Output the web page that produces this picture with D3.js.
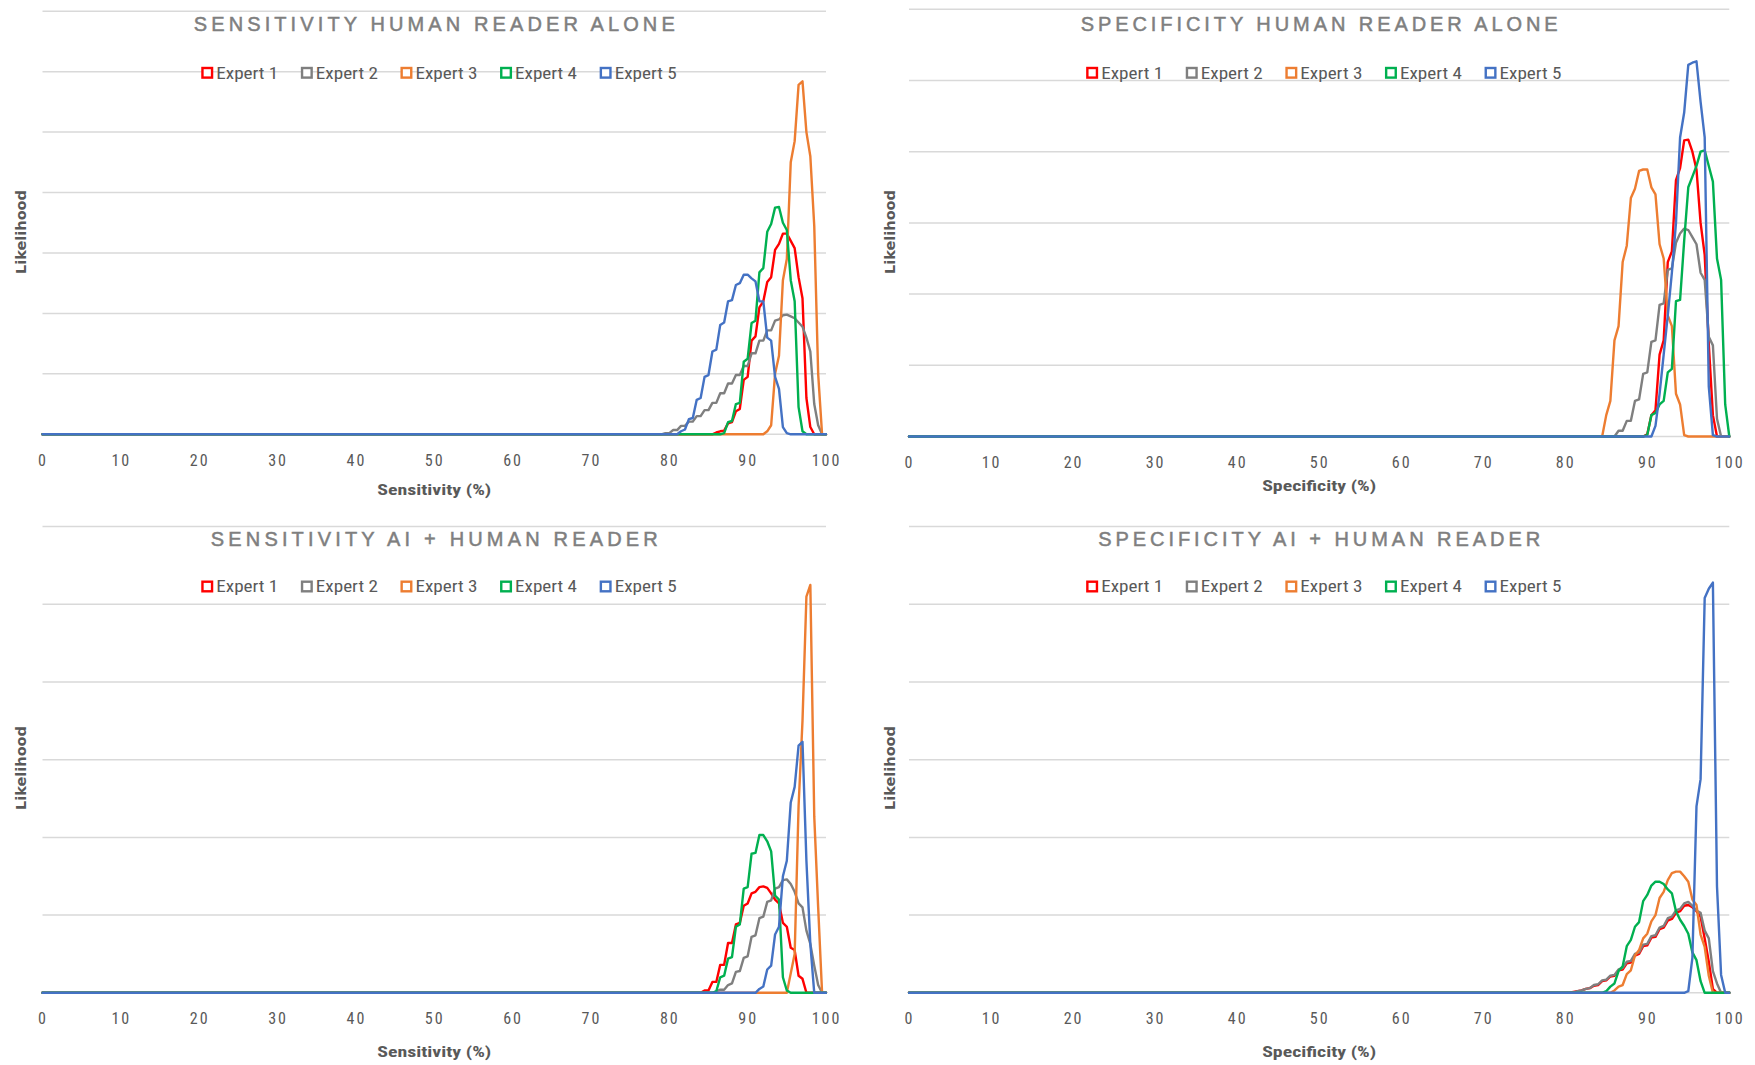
<!DOCTYPE html>
<html><head><meta charset="utf-8">
<script src="https://cdn.jsdelivr.net/npm/d3@7"></script>
<style>body{margin:0;background:#fff}svg{display:block}</style>
</head><body>
<svg id="chart" width="1755" height="1065"></svg>
<script>
// ---------- DATA ----------
const X_TICKS = [0, 10, 20, 30, 40, 50, 60, 70, 80, 90, 100];
const SERIES_NAMES = ["Expert 1", "Expert 2", "Expert 3", "Expert 4", "Expert 5"];
const SERIES_COLORS = ["#FF0000", "#7F7F7F", "#ED7D31", "#00B050", "#4472C4"];
const STEP = 0.5; // x spacing of the likelihood samples (%)

// Sensitivity, human reader alone
const SA_START = [85.5, 78.5, 92, 86.5, 80.5];
const SA_E1 = [0, .03, .05, .06, .18, .2, .38, .42, .9, .95, 1.55, 1.62, 2.1, 2.2, 2.52, 2.6, 3.05, 3.15, 3.32, 3.32, 3.2, 3.08, 2.6, 2.25, .6, .12, 0];
const SA_E2 = [0, 0, .02, .02, .07, .07, .14, .14, .21, .21, .3, .3, .4, .4, .52, .52, .68, .68, .84, .84, .98, .98, 1.13, 1.13, 1.34, 1.34, 1.55, 1.55, 1.72, 1.72, 1.88, 1.9, 1.97, 1.98, 1.95, 1.92, 1.85, 1.78, 1.6, 1.37, .5, .15, 0];
const SA_E3 = [0, .05, .15, 1.0, 1.3, 2.55, 2.9, 4.5, 4.85, 5.78, 5.84, 5.0, 4.6, 3.45, 1.0, 0];
const SA_E4 = [0, .02, .2, .22, .5, .52, 1.2, 1.25, 1.84, 1.88, 2.68, 2.75, 3.35, 3.48, 3.75, 3.76, 3.5, 3.38, 2.55, 2.2, .45, .05, 0];
const SA_E5 = [0, 0, .05, .08, .25, .27, .57, .6, .95, .98, 1.37, 1.4, 1.81, 1.85, 2.2, 2.22, 2.47, 2.5, 2.64, 2.64, 2.58, 2.53, 2.2, 2.2, 1.6, 1.55, .95, .75, .12, .02, 0];

// Specificity, human reader alone
const PA_START = [89.5, 85.5, 84.5, 89.5, 90.5];
const PA_E1 = [0, .03, .3, .37, 1.15, 1.35, 2.45, 2.6, 3.6, 3.77, 4.16, 4.17, 4.0, 3.75, 3.0, 2.55, 1.3, .3, 0];
const PA_E2 = [0, 0, .08, .08, .22, .22, .5, .52, .88, .9, 1.33, 1.35, 1.85, 1.87, 2.34, 2.36, 2.72, 2.85, 2.92, 2.9, 2.8, 2.7, 2.3, 2.2, 1.4, 1.28, .25, 0];
const PA_E3 = [0, .3, .5, 1.35, 1.55, 2.45, 2.68, 3.35, 3.48, 3.73, 3.75, 3.75, 3.5, 3.4, 2.7, 2.5, 1.7, 1.55, .6, .45, .02, 0];
const PA_E4 = [0, .02, .3, .33, .45, .5, .9, .95, 1.9, 1.92, 2.75, 3.5, 3.65, 3.8, 4.0, 4.02, 3.8, 3.58, 2.5, 2.2, .45, 0];
const PA_E5 = [0, .15, .6, 1.15, 1.7, 2.3, 3.0, 4.2, 4.55, 5.22, 5.25, 5.27, 4.7, 4.2, .7, .02, 0];

// Sensitivity, AI + human reader
const SB_START = [84, 85, 95, 85.5, 91];
const SB_E1 = [0, .03, .03, .14, .14, .36, .36, .64, .64, .88, .9, 1.12, 1.15, 1.28, 1.3, 1.36, 1.37, 1.35, 1.28, 1.2, 1.15, .9, .85, .58, .55, .22, .18, 0];
const SB_E2 = [0, 0, .02, .04, .04, .1, .12, .27, .28, .45, .47, .72, .74, .96, .98, 1.17, 1.19, 1.34, 1.36, 1.45, 1.46, 1.4, 1.3, 1.15, 1.1, .8, .63, .35, .1, 0];
const SB_E3 = [0, .25, .5, 2.4, 3.5, 5.1, 5.25, 2.27, 1.1, 0];
const SB_E4 = [0, .02, .2, .22, .44, .46, .85, .88, 1.34, 1.36, 1.79, 1.8, 2.03, 2.03, 1.95, 1.82, 1.25, 1.2, .2, .03, 0];
const SB_E5 = [0, .05, .08, .3, .35, .75, .85, 1.5, 1.7, 2.45, 2.65, 3.18, 3.23, 1.7, .63, 0];

// Specificity, AI + human reader
const PB_START = [80.5, 81, 85.5, 84.5, 94.5];
const PB_E1 = [0, .01, .02, .03, .05, .06, .09, .1, .15, .16, .21, .22, .29, .3, .38, .39, .48, .5, .6, .61, .71, .72, .82, .84, .93, .95, 1.03, 1.05, 1.12, 1.13, 1.1, 1.05, .98, .7, .4, .05, 0];
const PB_E2 = [0, .02, .03, .05, .06, .1, .11, .16, .17, .22, .23, .3, .32, .4, .41, .5, .52, .62, .63, .73, .74, .84, .86, .96, .98, 1.06, 1.08, 1.15, 1.17, 1.12, 1.06, 1.03, .8, .7, .28, .12, 0];
const PB_E3 = [0, .03, .08, .1, .24, .29, .48, .55, .7, .76, .92, 1.0, 1.22, 1.3, 1.45, 1.54, 1.56, 1.56, 1.5, 1.43, 1.2, 1.13, .75, .59, .22, 0];
const PB_E4 = [0, .02, .08, .12, .28, .34, .6, .68, .85, .91, 1.18, 1.26, 1.38, 1.43, 1.43, 1.4, 1.33, 1.28, 1.05, .94, .86, .76, .52, .42, .15, 0];
const PB_E5 = [0, .02, .45, 2.4, 2.75, 5.08, 5.2, 5.28, 1.37, .23, 0];

// ---------- LAYOUT ----------
const panels = [
  {title: "SENSITIVITY HUMAN READER ALONE", titleW: 481, xLabel: "Sensitivity (%)",
   start: SA_START, series: [SA_E1, SA_E2, SA_E3, SA_E4, SA_E5], yMax: 7,
   x0: 42.5, x1: 826, yTop: 11.2, yBase: 434.3, titleY: 23.5, legendY: 72.8, xLabelY: 490, yLabelX: 21, yLabelY: 232},
  {title: "SPECIFICITY HUMAN READER ALONE", titleW: 477, xLabel: "Specificity (%)",
   start: PA_START, series: [PA_E1, PA_E2, PA_E3, PA_E4, PA_E5], yMax: 6,
   x0: 909, x1: 1729.3, yTop: 9.3, yBase: 436.5, titleY: 23.5, legendY: 72.8, xLabelY: 486, yLabelX: 890, yLabelY: 232},
  {title: "SENSITIVITY AI + HUMAN READER", titleW: 447, xLabel: "Sensitivity (%)",
   start: SB_START, series: [SB_E1, SB_E2, SB_E3, SB_E4, SB_E5], yMax: 6,
   x0: 42.5, x1: 826, yTop: 526.6, yBase: 992.8, titleY: 538.4, legendY: 586.5, xLabelY: 1052, yLabelX: 21, yLabelY: 768},
  {title: "SPECIFICITY AI + HUMAN READER", titleW: 442, xLabel: "Specificity (%)",
   start: PB_START, series: [PB_E1, PB_E2, PB_E3, PB_E4, PB_E5], yMax: 6,
   x0: 909, x1: 1729.3, yTop: 526.6, yBase: 992.8, titleY: 538.4, legendY: 586.5, xLabelY: 1052, yLabelX: 890, yLabelY: 768}
];

const svg = d3.select("#chart");
const NARROW = "'Liberation Sans Narrow','Arial Narrow','Roboto Condensed','Liberation Sans',sans-serif";

panels.forEach(p => {
  const g = svg.append("g");
  const x = d3.scaleLinear().domain([0, 100]).range([p.x0, p.x1]);
  const y = d3.scaleLinear().domain([0, p.yMax]).range([p.yBase, p.yTop]);

  // gridlines
  g.append("g").selectAll("line").data(d3.range(0, p.yMax + 1)).join("line")
    .attr("x1", p.x0).attr("x2", p.x1)
    .attr("y1", d => y(d)).attr("y2", d => y(d))
    .attr("stroke", "#D9D9D9").attr("stroke-width", 1.5);

  // x axis
  const ax = g.append("g").attr("transform", `translate(0,${p.yBase})`)
    .call(d3.axisBottom(x).tickValues(X_TICKS).tickSize(0).tickPadding(20));
  ax.select(".domain").remove();
  ax.selectAll("text").attr("fill", "#595959").attr("font-size", 16)
    .attr("font-family", NARROW).attr("letter-spacing", "2px");

  // title
  g.append("text").attr("x", (p.x0 + p.x1) / 2).attr("y", p.titleY).attr("dy", "0.36em")
    .attr("text-anchor", "middle").attr("fill", "#7F7F7F").attr("font-size", 20)
    .attr("stroke", "#7F7F7F").attr("stroke-width", 0.5)
    .attr("font-family", "'Liberation Sans',Arial,sans-serif")
    .attr("textLength", p.titleW).attr("lengthAdjust", "spacing")
    .text(p.title);

  // axis titles
  g.append("text").attr("x", (p.x0 + p.x1) / 2).attr("y", p.xLabelY).attr("dy", "0.36em")
    .attr("text-anchor", "middle").attr("fill", "#595959").attr("font-size", 15)
    .attr("font-weight", "bold").attr("font-family", NARROW)
    .attr("textLength", 114).attr("lengthAdjust", "spacingAndGlyphs")
    .text(p.xLabel);
  g.append("text").attr("transform", `translate(${p.yLabelX},${p.yLabelY}) rotate(-90)`)
    .attr("dy", "0.36em").attr("text-anchor", "middle").attr("fill", "#595959")
    .attr("font-size", 14).attr("font-weight", "bold").attr("font-family", "'DejaVu Sans',sans-serif")
    .attr("textLength", 84).attr("lengthAdjust", "spacingAndGlyphs")
    .text("Likelihood");

  // legend
  const cx = (p.x0 + p.x1) / 2;
  const leg = g.append("g").selectAll("g").data(SERIES_NAMES).join("g")
    .attr("transform", (d, i) => `translate(${cx - 233 + i * 99.6},${p.legendY})`);
  leg.append("rect").attr("x", 1.2).attr("y", -4.8).attr("width", 9.6).attr("height", 9.6)
    .attr("fill", "#fff").attr("stroke", (d, i) => SERIES_COLORS[i]).attr("stroke-width", 2.4);
  leg.append("text").attr("x", 15).attr("dy", "0.36em").attr("fill", "#595959")
    .attr("font-size", 16).attr("font-family", NARROW)
    .attr("textLength", 62).attr("lengthAdjust", "spacingAndGlyphs")
    .text(d => d);

  // lines
  const line = d3.line().x(d => x(d[0])).y(d => y(d[1]));
  p.series.forEach((vals, i) => {
    const pts = [[0, 0]].concat(vals.map((v, k) => [p.start[i] + k * STEP, v]), [[100, 0]]);
    g.append("path").datum(pts).attr("d", line).attr("fill", "none")
      .attr("stroke", SERIES_COLORS[i]).attr("stroke-width", 2.4)
      .attr("stroke-linejoin", "round").attr("stroke-linecap", "round");
  });
});
</script>
</body></html>
